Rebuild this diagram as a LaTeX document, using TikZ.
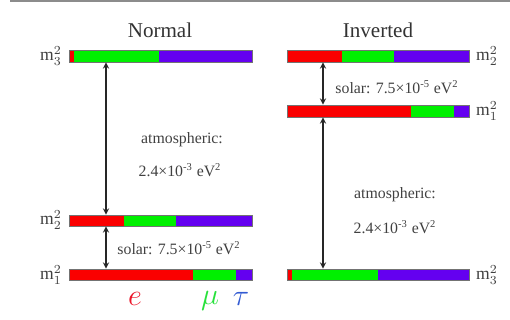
\documentclass[tikz,border=0pt]{standalone}
\usepackage{fontspec}
\setmainfont{Liberation Serif}
\usepackage{tikz}
\usetikzlibrary{fit}
\definecolor{nured}{RGB}{250,0,0}
\definecolor{nugreen}{RGB}{0,240,0}
\definecolor{nublue}{RGB}{100,0,240}

\begin{document}
\begin{tikzpicture}[x=0.02cm,y=-0.02cm,>=stealth,
  lvl/.style={draw=black!55,line width=0.4pt,inner sep=0pt},
  lab/.style={text=black!75,font=\fontsize{9}{11}\selectfont},
  mlab/.style={text=black!75,font=\fontsize{10}{12}\selectfont,inner sep=1pt},
  flav/.style={font=\fontsize{19}{21}\selectfont,inner sep=0pt},
  gap/.style={<->,semithick,black!85}]
\useasboundingbox (0,0) rectangle (510,320);
\draw[black!45,line width=1.2pt] (10,1) -- (510,1);
% normal ordering
\node[text=black!80,font=\fontsize{12}{14}\selectfont] (ntitle) at (160,30) {Normal};
\fill[nured] (69,50) rectangle (74,62);
\fill[nugreen] (74,50) rectangle (159,62);
\fill[nublue] (159,50) rectangle (252,62);
\node[lvl,fit={(69,50) (252,62)}] (n3) {};
\fill[nured] (69,215) rectangle (124,226);
\fill[nugreen] (124,215) rectangle (176,226);
\fill[nublue] (176,215) rectangle (252,226);
\node[lvl,fit={(69,215) (252,226)}] (n2) {};
\fill[nured] (69,269) rectangle (193,280);
\fill[nugreen] (193,269) rectangle (236,280);
\fill[nublue] (236,269) rectangle (252,280);
\node[lvl,fit={(69,269) (252,280)}] (n1) {};
\node[mlab] at (51,56) {m$_3^2$};
\node[mlab] at (51,220) {m$_2^2$};
\node[mlab] at (51,275) {m$_1^2$};
\coordinate (na) at (106,0);
\draw[gap] (n3.south -| na) -- (n2.north -| na);
\draw[gap] (n2.south -| na) -- (n1.north -| na);
\node[lab] at (182,140) {atmospheric:};
\node[lab] at (180,170) {2.4×10\textsuperscript{-3} eV\textsuperscript{2}};
\node[lab] at (179,248) {solar: 7.5×10\textsuperscript{-5} eV\textsuperscript{2}};
\node[flav,text={rgb,255:red,235;green,20;blue,40}] (fe) at (135,299) {$e$};
\node[flav,text={rgb,255:red,40;green,225;blue,60}] (fmu) at (210,301) {$\mu$};
\node[flav,text={rgb,255:red,50;green,90;blue,210}] (ftau) at (241,299) {$\tau$};
% inverted ordering
\node[text=black!80,font=\fontsize{12}{14}\selectfont] (ititle) at (378,30) {Inverted};
\fill[nured] (287,50) rectangle (342,62);
\fill[nugreen] (342,50) rectangle (394,62);
\fill[nublue] (394,50) rectangle (469,62);
\node[lvl,fit={(287,50) (469,62)}] (i2) {};
\fill[nured] (287,105) rectangle (411,117);
\fill[nugreen] (411,105) rectangle (454,117);
\fill[nublue] (454,105) rectangle (469,117);
\node[lvl,fit={(287,105) (469,117)}] (i1) {};
\fill[nured] (287,269) rectangle (292,280);
\fill[nugreen] (292,269) rectangle (378,280);
\fill[nublue] (378,269) rectangle (469,280);
\node[lvl,fit={(287,269) (469,280)}] (i3) {};
\node[mlab] at (487,56) {m$_2^2$};
\node[mlab] at (487,111) {m$_1^2$};
\node[mlab] at (487,275) {m$_3^2$};
\coordinate (ia) at (323,0);
\draw[gap] (i2.south -| ia) -- (i1.north -| ia);
\draw[gap] (i1.south -| ia) -- (i3.north -| ia);
\node[lab] at (397,87) {solar: 7.5×10\textsuperscript{-5} eV\textsuperscript{2}};
\node[lab] at (395,195) {atmospheric:};
\node[lab] at (395,227) {2.4×10\textsuperscript{-3} eV\textsuperscript{2}};
\end{tikzpicture}
\end{document}
